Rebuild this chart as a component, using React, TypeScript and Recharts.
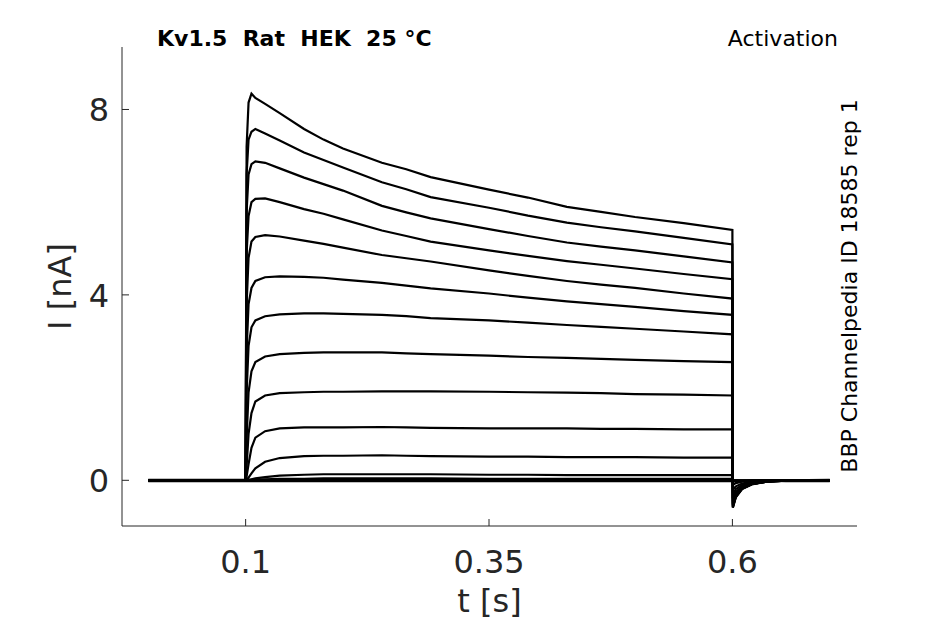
import { LineChart, Line, XAxis, YAxis } from "recharts";

// sample times (s), shared by every sweep
const times = [
  0, 0.1, 0.101, 0.103, 0.106, 0.11, 0.12, 0.135, 0.16, 0.18, 0.2, 0.24, 0.265,
  0.29, 0.35, 0.39, 0.43, 0.465, 0.5, 0.55, 0.6, 0.6005, 0.6035, 0.61, 0.62,
  0.635, 0.655, 0.7,
];

// current (nA) per voltage step, top sweep first
const sweep1 = [0, 0, 7.2, 8.15, 8.34, 8.25, 8.12, 7.92, 7.58, 7.35, 7.16, 6.85, 6.71, 6.54, 6.27, 6.1, 5.9, 5.79, 5.68, 5.55, 5.4, -0.59, -0.37, -0.19, -0.09, -0.03, -0.01, 0];
const sweep2 = [0, 0, 6.6, 7.35, 7.52, 7.58, 7.48, 7.33, 7.07, 6.91, 6.75, 6.43, 6.28, 6.11, 5.88, 5.71, 5.56, 5.46, 5.37, 5.23, 5.09, -0.58, -0.36, -0.18, -0.08, -0.03, -0.01, 0];
const sweep3 = [0, 0, 5.8, 6.6, 6.82, 6.88, 6.85, 6.73, 6.53, 6.39, 6.25, 5.92, 5.78, 5.65, 5.42, 5.27, 5.13, 5.04, 4.96, 4.83, 4.7, -0.57, -0.35, -0.18, -0.08, -0.03, -0.01, 0];
const sweep4 = [0, 0, 4.9, 5.7, 6.0, 6.07, 6.08, 6.0, 5.85, 5.75, 5.63, 5.39, 5.27, 5.15, 4.96, 4.84, 4.73, 4.65, 4.57, 4.45, 4.34, -0.55, -0.34, -0.17, -0.08, -0.03, -0.01, 0];
const sweep5 = [0, 0, 3.8, 4.8, 5.15, 5.25, 5.29, 5.26, 5.17, 5.1, 5.02, 4.86, 4.79, 4.72, 4.53, 4.41, 4.3, 4.22, 4.15, 4.03, 3.92, -0.53, -0.33, -0.17, -0.08, -0.03, -0.01, 0];
const sweep6 = [0, 0, 2.8, 3.8, 4.15, 4.3, 4.38, 4.4, 4.39, 4.37, 4.33, 4.26, 4.2, 4.14, 4.03, 3.94, 3.86, 3.8, 3.74, 3.65, 3.57, -0.5, -0.31, -0.16, -0.07, -0.02, -0.01, 0];
const sweep7 = [0, 0, 1.9, 2.9, 3.3, 3.45, 3.54, 3.58, 3.6, 3.6, 3.59, 3.57, 3.54, 3.5, 3.45, 3.4, 3.35, 3.31, 3.27, 3.21, 3.15, -0.46, -0.29, -0.15, -0.07, -0.02, -0.01, 0];
const sweep8 = [0, 0, 0.9, 1.9, 2.35, 2.55, 2.67, 2.72, 2.75, 2.76, 2.76, 2.76, 2.74, 2.72, 2.69, 2.66, 2.64, 2.62, 2.6, 2.57, 2.55, -0.4, -0.25, -0.13, -0.06, -0.02, 0, 0];
const sweep9 = [0, 0, 0.3, 1.0, 1.45, 1.7, 1.83, 1.88, 1.9, 1.91, 1.91, 1.92, 1.92, 1.92, 1.91, 1.9, 1.89, 1.88, 1.86, 1.85, 1.83, -0.3, -0.19, -0.1, -0.04, -0.02, 0, 0];
const sweep10 = [0, 0, 0.08, 0.35, 0.7, 0.92, 1.06, 1.12, 1.14, 1.14, 1.14, 1.15, 1.14, 1.13, 1.12, 1.12, 1.12, 1.11, 1.11, 1.1, 1.1, -0.2, -0.13, -0.07, -0.03, -0.01, 0, 0];
const sweep11 = [0, 0, 0.01, 0.06, 0.15, 0.26, 0.4, 0.48, 0.52, 0.53, 0.53, 0.54, 0.53, 0.52, 0.51, 0.51, 0.5, 0.5, 0.5, 0.49, 0.49, -0.1, -0.06, -0.03, -0.01, 0, 0, 0];
const sweep12 = [0, 0, 0, 0.01, 0.02, 0.04, 0.07, 0.1, 0.12, 0.13, 0.13, 0.13, 0.13, 0.13, 0.12, 0.12, 0.11, 0.11, 0.11, 0.11, 0.11, -0.03, -0.02, -0.01, 0, 0, 0, 0];
const sweep13 = [0, 0, 0, 0, 0.01, 0.01, 0.02, 0.03, 0.03, 0.04, 0.04, 0.04, 0.04, 0.04, 0.03, 0.03, 0.03, 0.03, 0.03, 0.03, 0.03, 0, 0, 0, 0, 0, 0, 0];
const sweep14 = [0.01, 0.01, 0.01, 0.01, 0.01, 0.01, 0.01, 0.01, 0.01, 0.01, 0.01, 0.01, 0.01, 0.01, 0.01, 0.01, 0.01, 0.01, 0.01, 0.01, 0.01, 0, 0, 0, 0, 0, 0, 0.01];
const sweep15 = [-0.02, -0.02, -0.02, -0.02, -0.02, -0.02, -0.02, -0.02, -0.02, -0.02, -0.02, -0.02, -0.02, -0.02, -0.02, -0.02, -0.02, -0.02, -0.02, -0.02, -0.02, 0, 0, -0.01, -0.01, -0.01, -0.02, -0.02];

const sweeps = [
  sweep1, sweep2, sweep3, sweep4, sweep5, sweep6, sweep7, sweep8,
  sweep9, sweep10, sweep11, sweep12, sweep13, sweep14, sweep15,
];

const xTicks = [0.1, 0.35, 0.6];
const yTicks = [0, 4, 8];

const W = 945;
const H = 624;
const TOP = 47;
const LEFT = 122;
const RIGHT = 88;
const BOTTOM = 98;
const PLOT_BOTTOM = H - BOTTOM;
const PLOT_RIGHT = W - RIGHT;
const AX = "#262626";
const FONT = "'DejaVu Sans', sans-serif";

const data = times.map((t, i) => {
  const row: Record<string, number> = { t };
  sweeps.forEach((s, k) => {
    row["s" + k] = s[i];
  });
  return row;
});

function XTick(props: any) {
  const { x, payload } = props;
  return (
    <g>
      <line x1={x} x2={x} y1={PLOT_BOTTOM} y2={PLOT_BOTTOM - 7} stroke={AX} strokeWidth={1} />
      <text x={x} y={PLOT_BOTTOM + 47} textAnchor="middle" fontSize={32} fill={AX} fontFamily={FONT}>
        {String(payload.value)}
      </text>
    </g>
  );
}

function YTick(props: any) {
  const { y, payload } = props;
  return (
    <g>
      <line x1={LEFT} x2={LEFT + 7} y1={y} y2={y} stroke={AX} strokeWidth={1} />
      <text x={109} y={y + 11.7} textAnchor="end" fontSize={32} fill={AX} fontFamily={FONT}>
        {String(payload.value)}
      </text>
    </g>
  );
}

export default function App() {
  const midX = (LEFT + PLOT_RIGHT) / 2;
  const midY = (TOP + PLOT_BOTTOM) / 2;
  return (
    <div style={{ position: "fixed", left: 0, top: 0, width: W, height: H, background: "#fff" }}>
      <LineChart
        width={W}
        height={H}
        data={data}
        margin={{ top: TOP, right: RIGHT, bottom: 0, left: 0 }}
      >
        <XAxis
          dataKey="t"
          type="number"
          domain={[-0.027, 0.728]}
          ticks={xTicks}
          height={BOTTOM}
          tickLine={false}
          tick={<XTick />}
          axisLine={{ stroke: AX, strokeWidth: 1 }}
        />
        <YAxis
          type="number"
          domain={[-0.986, 9.348]}
          ticks={yTicks}
          width={LEFT}
          tickLine={false}
          tick={<YTick />}
          axisLine={{ stroke: AX, strokeWidth: 1 }}
        />
        {sweeps.map((_, k) => (
          <Line
            key={k}
            dataKey={"s" + k}
            type="linear"
            stroke="#000"
            strokeWidth={2.2}
            dot={false}
            isAnimationActive={false}
          />
        ))}
      </LineChart>
      <svg
        width={W}
        height={H}
        style={{ position: "absolute", left: 0, top: 0, pointerEvents: "none" }}
        fontFamily={FONT}
      >
        <text x={157} y={46} fontSize={22} fontWeight="bold" fill="#000" style={{ whiteSpace: "pre" }}>
          {"Kv1.5  Rat  HEK  25 °C"}
        </text>
        <text x={838} y={46} fontSize={22} textAnchor="end" fill="#000">
          Activation
        </text>
        <text
          x={857}
          y={286}
          fontSize={22}
          textAnchor="middle"
          fill="#000"
          transform={`rotate(-90 857 286)`}
        >
          BBP Channelpedia ID 18585 rep 1
        </text>
        <text x={midX} y={612} fontSize={32} textAnchor="middle" fill={AX}>
          t [s]
        </text>
        <text
          x={71}
          y={midY}
          fontSize={32}
          textAnchor="middle"
          fill={AX}
          transform={`rotate(-90 71 ${midY})`}
        >
          I [nA]
        </text>
      </svg>
    </div>
  );
}
